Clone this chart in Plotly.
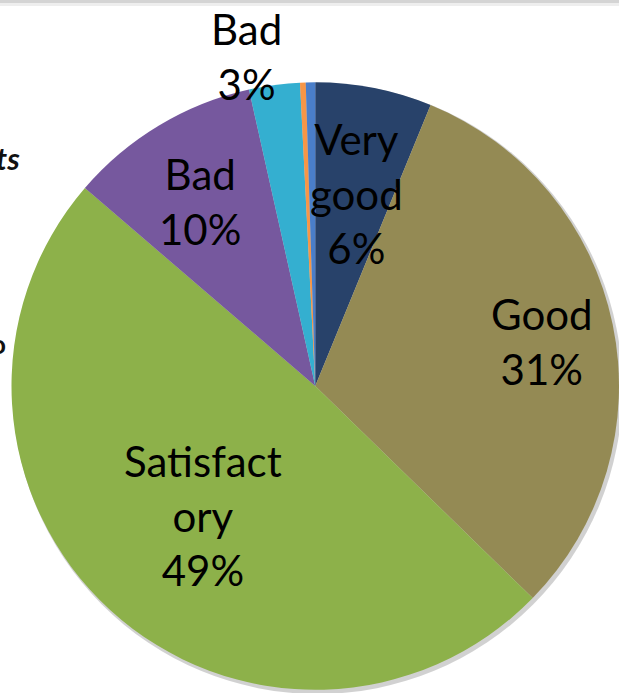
import plotly.graph_objects as go

# ---- data ----
categories = ["Very good", "Good", "Satisfactory", "Bad", "Very bad", "No answer", "Other"]
shown_names = ["Very<br>good", "Good", "Satisfact<br>ory", "Bad", "Bad", "", ""]
values = [6.2, 31.1, 49.0, 10.2, 2.7, 0.3, 0.5]
colors = ["#28426A", "#948A54", "#8DB14A", "#76589E", "#34AFD0", "#F79646", "#4A7EC9"]

W, H = 619, 693

# pie geometry (pixels)
cx, cy, R = 315.5, 386, 304

def px(x):
    return x / W

def py(y):
    return 1 - y / H

# label anchor positions (pixels, center of text block)
label_xy = [(356, 193), (542, 341), (203, 515), (200, 202), (246, 57), None, None]

total = sum(values)

fig = go.Figure()

fig.add_trace(go.Pie(
    labels=categories,
    values=values,
    sort=False,
    direction="clockwise",
    rotation=0,
    marker=dict(colors=colors, line=dict(width=0)),
    textinfo="none",
    hoverinfo="label+percent",
    showlegend=False,
    domain=dict(x=[px(cx - R), min(1, px(cx + R))], y=[py(cy + R), py(cy - R)]),
))

annotations = []
for name, v, pos in zip(shown_names, values, label_xy):
    if pos is None:
        continue
    pct = round(v / total * 100)
    annotations.append(dict(
        x=px(pos[0]), y=py(pos[1]), xref="paper", yref="paper",
        text=f"{name}<br>{pct}%", showarrow=False,
        xanchor="center", yanchor="middle", align="center",
        font=dict(family="Lato", size=42, color="#000000"),
    ))

# cut-off text fragments at the left edge (as in the reference)
annotations.append(dict(
    x=px(22), y=py(158), xref="paper", yref="paper", text="<i><b>Students</b></i>",
    showarrow=False, xanchor="right", yanchor="middle",
    font=dict(family="Lato", size=31, color="#111111"),
))
annotations.append(dict(
    x=px(8), y=py(344), xref="paper", yref="paper", text="<b>o</b>",
    showarrow=False, xanchor="right", yanchor="middle",
    font=dict(family="Lato", size=26, color="#111111"),
))

shapes = [
    # soft shadow behind the pie
    dict(type="circle", xref="paper", yref="paper", layer="below",
         x0=px(cx - R + 1), x1=px(cx + R + 3), y0=py(cy + R + 4), y1=py(cy - R + 1),
         fillcolor="rgba(0,0,0,0.18)", line=dict(width=0)),
    # thin grey band at the top
    dict(type="rect", xref="paper", yref="paper", x0=0, x1=1, y0=py(3), y1=1,
         fillcolor="#d4d4d4", line=dict(width=0)),
    dict(type="rect", xref="paper", yref="paper", x0=0, x1=1, y0=py(6), y1=py(3),
         fillcolor="#eeeeee", line=dict(width=0)),
]

fig.update_layout(
    width=W, height=H,
    margin=dict(l=0, r=0, t=0, b=0),
    paper_bgcolor="white",
    plot_bgcolor="white",
    annotations=annotations,
    shapes=shapes,
)

fig.write_html(
    "out.html",
    config={"displayModeBar": False},
    post_script="document.body.style.margin='0';document.body.style.overflow='hidden';",
)
